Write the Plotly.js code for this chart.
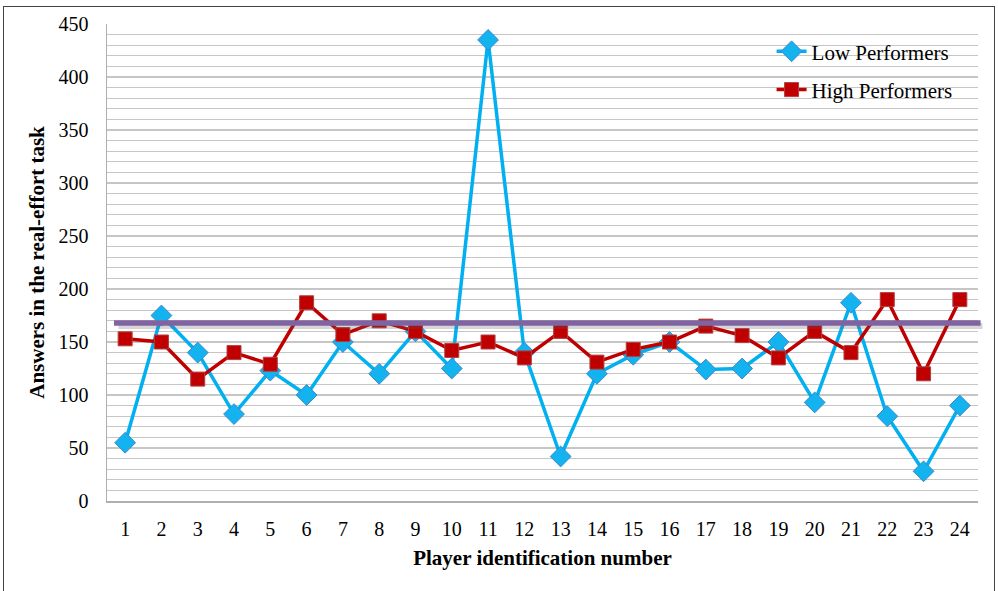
<!DOCTYPE html>
<html>
<head>
<meta charset="utf-8">
<script src="https://cdn.plot.ly/plotly-3.0.1.min.js"></script>
<style>
html,body{margin:0;padding:0;background:#fff;}
#wrap{position:relative;width:998px;height:591px;overflow:hidden;}
#chart{width:998px;height:591px;}
#frame{position:absolute;left:3px;top:6px;width:990px;height:600px;border:1.5px solid #444;pointer-events:none;}
</style>
</head>
<body>
<div id="wrap"><div id="chart"></div><div id="frame"></div></div>
<script>
// Data
const players = [1,2,3,4,5,6,7,8,9,10,11,12,13,14,15,16,17,18,19,20,21,22,23,24];
const lowPerformers  = [55,175,140,82,123,100,150,120,160,125,435,140,42,120,138,150,124,125,150,93,187,80,28,90];
const highPerformers = [153,150,115,140,129,187,157,170,160,142,150,135,160,131,143,150,165,156,135,160,140,190,120,190];
const thresholdValue = 168;
const seriesNames = ['Low Performers','High Performers'];

const serif = 'Liberation Serif';

const traces = [
  {
    x: players, y: lowPerformers, name: seriesNames[0], type:'scatter', mode:'lines+markers',
    legendgroup:'a',
    line:{color:'#00B0F0', width:3.5},
    marker:{symbol:'diamond', size:16, color:'#12B3EE', line:{color:'#3F87CC', width:1}}
  },
  {
    x: players, y: highPerformers, name: seriesNames[1], type:'scatter', mode:'lines+markers',
    legendgroup:'b',
    line:{color:'#C00000', width:3.5},
    marker:{symbol:'square', size:14, color:'#C00000', line:{color:'#B04040', width:1}}
  }
];

const layout = {
  width:998, height:591,
  margin:{l:107, r:20, t:24, b:90},
  paper_bgcolor:'#fff', plot_bgcolor:'#fff',
  font:{family:serif, color:'#000', size:20},
  showlegend:true,
  legend:{x:0.763, y:0.985, xanchor:'left', yanchor:'top', bgcolor:'rgba(0,0,0,0)',
          font:{family:serif, size:21, color:'#000'}, traceorder:'grouped', tracegroupgap:8},
  xaxis:{
    range:[0.5,24.5], tickmode:'array', tickvals:players, ticktext:players.map(String),
    showgrid:false, zeroline:false, showline:true, linecolor:'#b0b0b0', linewidth:1.5,
    ticks:'outside', ticklen:9, tickcolor:'rgba(0,0,0,0)',
    tickfont:{family:serif, size:20, color:'#000'},
    title:{text:'<b>Player identification number</b>', font:{family:serif, size:21, color:'#000'}, standoff:12}
  },
  yaxis:{
    range:[0,450], dtick:50, tick0:0,
    showgrid:true, gridcolor:'#c6c6c6', gridwidth:1.2,
    minor:{dtick:10, showgrid:true, gridcolor:'#c6c6c6', gridwidth:1.2},
    zeroline:false, showline:true, linecolor:'#b0b0b0', linewidth:1.5,
    ticks:'outside', ticklen:13, tickcolor:'rgba(0,0,0,0)',
    tickfont:{family:serif, size:20, color:'#000'},
    title:{text:'<b>Answers in the real-effort task</b>', font:{family:serif, size:21, color:'#000'}, standoff:8}
  },
  shapes:[
    {type:'line', xref:'paper', yref:'y', x0:0.012, x1:1.004, y0:thresholdValue, y1:thresholdValue,
     line:{color:'rgba(90,90,90,0.25)', width:6}, layer:'above'},
    {type:'line', xref:'paper', yref:'y', x0:0.008, x1:1.003, y0:thresholdValue, y1:thresholdValue,
     line:{color:'#8064A2', width:5.5}, layer:'above'}
  ]
};

Plotly.newPlot('chart', traces, layout, {staticPlot:true, displayModeBar:false}).then(function(){
  const paths = document.querySelectorAll('.shapelayer path');
  if (paths.length) { paths[0].setAttribute('transform','translate(1,3)'); }
});
</script>
</body>
</html>
